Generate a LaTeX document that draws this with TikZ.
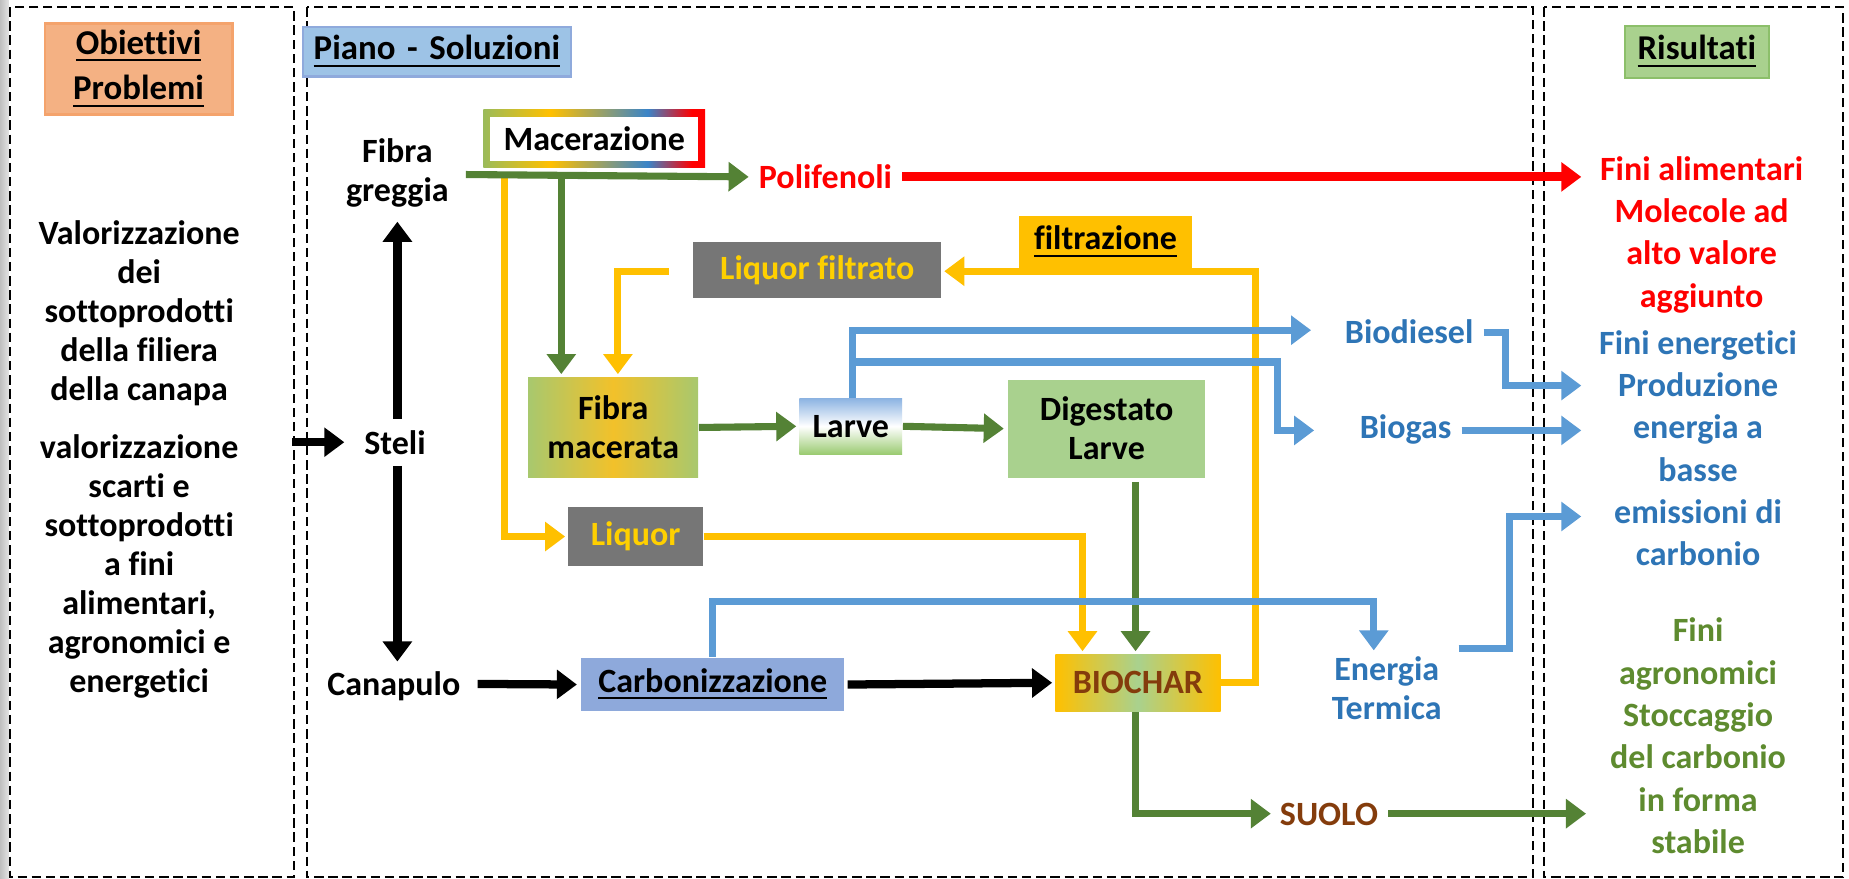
\documentclass[tikz,border=0pt]{standalone}
\usepackage{fontspec}
\setmainfont{Carlito}[Ligatures=NoCommon]
\usetikzlibrary{arrows.meta,calc}
\definecolor{cgreen}{HTML}{548235}
\definecolor{tgreen}{HTML}{5E8B2F}
\definecolor{cyel}{HTML}{FFC000}
\definecolor{tyel}{HTML}{FFD000}
\definecolor{cblue}{HTML}{5B9BD5}
\definecolor{tblue}{HTML}{2E75B6}
\definecolor{cred}{HTML}{FF0000}
\definecolor{cbrown}{HTML}{843C0C}
\definecolor{cgray}{HTML}{767676}
\definecolor{obfill}{HTML}{F4B183}
\definecolor{obdraw}{HTML}{F4A36C}
\definecolor{psfill}{HTML}{9DC3E6}
\definecolor{psdraw}{HTML}{8FAADC}
\definecolor{rifill}{HTML}{A9D18E}
\definecolor{ridraw}{HTML}{8CBF6A}
\definecolor{lgreen}{HTML}{A9D18E}
\definecolor{fmgreen}{HTML}{A8C86E}
\definecolor{fmyel}{HTML}{F2C12A}
\definecolor{carbfill}{HTML}{8EA9DB}
\definecolor{larblue}{HTML}{8DB4E2}
\definecolor{largreen}{HTML}{9BCB72}
\definecolor{macg}{HTML}{9BBB59}
\definecolor{macy}{HTML}{FFC000}
\definecolor{macb}{HTML}{3A84C8}
\definecolor{macr}{HTML}{FF0000}
\pgfdeclarehorizontalshading{macshade}{100bp}{color(0bp)=(macg); color(25bp)=(macg); color(40bp)=(macy); color(62bp)=(macb); color(72bp)=(macr); color(100bp)=(macr)}
\begin{document}
\begin{tikzpicture}[x=0.01cm,y=-0.01cm,
  panel/.style={draw=black, line width=0.5pt, dash pattern=on 0.08cm off 0.04cm},
  txt/.style={font=\fontsize{8.2}{9.4}\selectfont\bfseries, align=center, inner sep=0pt},
  rtxt/.style={font=\fontsize{8.2}{10.2}\selectfont\bfseries, align=center, inner sep=0pt},
  hdr/.style={font=\fontsize{8.4}{10}\selectfont\bfseries, align=center, inner sep=0pt, line width=0.6pt},
  box/.style={font=\fontsize{8.2}{9.4}\selectfont\bfseries, align=center, inner sep=0pt},
  arr/.style={line width=0.06cm, -{Triangle[length=0.17cm,width=0.24cm]}},
  blk/.style={arr, draw=black, line width=0.07cm},
  grn/.style={arr, draw=cgreen},
  yel/.style={arr, draw=cyel},
  blu/.style={arr, draw=cblue},
  rd/.style={arr, draw=cred, line width=0.075cm}
]
\useasboundingbox (0,0) rectangle (1568,745);
\fill[left color=gray!50, right color=gray!20] (0,0) rectangle (8,745);
\fill[white] (8,0) rectangle (1568,745);
% panels
\draw[panel] (8.5,6) rectangle (249,744);
\draw[panel] (260,6) rectangle (1300,744);
\draw[panel] (1309,6) rectangle (1563,744);

% headers
\node[hdr, fill=obfill, draw=obdraw, minimum width=1.59cm, minimum height=0.77cm] (ob) at (117.5,58.5) {\underline{Obiettivi}\\[1pt]\underline{Problemi}};
\node[hdr, fill=psfill, draw=psdraw, minimum height=0.42cm, text width=2.09cm, inner xsep=0.09cm, align=left, anchor=west] (ps) at (256,44) {\underline{Piano - Soluzioni}};
\node[hdr, fill=rifill, draw=ridraw, minimum width=1.22cm, minimum height=0.44cm] (ri) at (1439,44) {\underline{Risultati}};

% left texts
\node[txt] (lt1) at (118,266) {Valorizzazione\\dei\\sottoprodotti\\della filiera\\della canapa};
\node[txt] (lt2) at (118,480) {valorizzazione\\scarti e\\sottoprodotti\\a fini\\alimentari,\\agronomici e\\energetici};

% right texts
\node[rtxt, text=cred] (r1) at (1443,199) {Fini alimentari\\Molecole ad\\alto valore\\aggiunto};
\node[rtxt, text=tblue] (r2) at (1440,380) {Fini energetici\\Produzione\\energia a\\basse\\emissioni di\\carbonio};
\node[rtxt, text=tgreen] (r3) at (1440,624) {Fini\\agronomici\\Stoccaggio\\del carbonio\\in forma\\stabile};

% middle texts
\node[txt] (fg) at (337,147) {Fibra\\greggia};
\node[txt] (st) at (335,375) {Steli};
\node[txt] (can) at (334,582) {Canapulo};
\node[txt, text=cred] (pol) at (700,150) {Polifenoli};
\node[txt, text=tblue] (bd) at (1195,281) {Biodiesel};
\node[txt, text=tblue] (bg) at (1192,364) {Biogas};
\node[txt, text=tblue] (et) at (1176,584) {Energia\\Termica};
\node[txt, text=cbrown] (suolo) at (1127,691) {SUOLO};

% boxes
\path[shading=macshade] (410,93) rectangle (598,142);
\node[box, fill=white, minimum width=1.76cm, minimum height=0.37cm] (mac) at (504,118) {Macerazione};
\node[box, fill=cgray, text=tyel, minimum width=2.10cm, minimum height=0.48cm] (lf) at (693,229) {Liquor filtrato};
\node[box, fill=cyel, minimum width=1.47cm, minimum height=0.45cm] (fil) at (937.5,205.5) {\underline{filtrazione}};
\node[box, left color=fmgreen, right color=fmgreen, middle color=fmyel, minimum width=1.44cm, minimum height=0.85cm] (fm) at (520,362.5) {Fibra\\macerata};
\node[box, top color=larblue, bottom color=largreen, middle color=white, minimum width=0.87cm, minimum height=0.47cm] (lar) at (721.5,361.5) {Larve};
\node[box, fill=lgreen, minimum width=1.67cm, minimum height=0.83cm] (dig) at (938.5,363.5) {Digestato\\Larve};
\node[box, fill=cgray, text=tyel, minimum width=1.14cm, minimum height=0.50cm] (liq) at (539,455) {Liquor};
\node[box, fill=carbfill, minimum width=2.23cm, minimum height=0.45cm] (carb) at (604.5,580.5) {\underline{Carbonizzazione}};
\node[box, left color=cyel, right color=cyel, middle color=lgreen, text=cbrown, minimum width=1.40cm, minimum height=0.48cm] (bio) at (965,579) {BIOCHAR};

% junction coordinates
\coordinate (j1) at (428,149);
\coordinate (j2) at (476,149);
\coordinate (j3) at (723,307);
\coordinate (k3) at (1083,307);
\coordinate (k4) at (1277,282);
\coordinate (k5) at (1165,510);
\coordinate (k6) at (1280,550);
\coordinate (k7) at (1237,550);
\coordinate (yr) at (1065,230);
\coordinate (yl) at (524,230);
\coordinate (in) at (248,375);
\coordinate (e1) at (1341,327);
\coordinate (e2) at (1341,365);
\coordinate (e3) at (1341,438);
\coordinate (e4) at (1345,690);
\coordinate (e5) at (1341,150);

% black arrows
\draw[blk] (in) -- ($(st)+(-43,0)$);
\draw[blk] ($(st)+(2,-20)$) -- ($(fg)+(0,41)$);
\draw[blk] ($(st)+(2,20)$) -- ($(can)+(3,-21)$);
\draw[blk] ($(can)+(71,-2)$) -- ($(carb.west)+(-3,0)$);
\draw[blk] ($(carb.east)+(2,0)$) -- ($(bio.west)+(-2,0)$);

% green / red from fibra greggia
\draw[yel] (j1) |- ($(liq.west)+(-2,0)$);
\draw[grn] (j2) -- ($(j2 |- fm.north)+(0,-2)$);
\draw[grn] ($(fg)+(58,1)$) -- ($(pol.west)+(-8,0)$);
\draw[rd] ($(pol.east)+(8,0)$) -- (e5);

% liquor filtrato loop
\draw[yel] ($(lf.west)+(-20,1)$) -- (yl) -- ($(yl |- fm.north)+(0,-2)$);
\draw[yel] (bio.east) -| (yr) -- ($(lf.east)+(2,1)$);

% central chain
\draw[grn] (fm.east) -- ($(lar.west)+(-2,0)$);
\draw[grn] (lar.east) -- ($(dig.west)+(-3,0)$);

% blue from larve
\draw[blu] (lar.north -| j3) |- ($(bd.west)+(-28,-1)$);
\draw[blu] (j3) -- (k3) |- ($(bg.west)+(-38,1)$);
\draw[blu] ($(bd.east)+(8,1)$) -- (k4) |- (e1);
\draw[blu] ($(bg.east)+(8,1)$) -- (e2);

% biochar inputs
\draw[yel] (liq.east) -| ($(918,0 |- bio.north)+(0,-2)$);
\draw[grn] ($(bio.north |- dig.south)+(-2,3)$) -- ($(bio.north)+(-2,-2)$);

% carbonization heat
\draw[blu] (carb.north) |- (k5) -- ($(k5 |- et.north)+(0,-5)$);
\draw[blu] (k7) -- (k6) |- (e3);

% suolo
\draw[grn] ($(bio.south)+(-2,0)$) |- ($(suolo.west)+(-7,-1)$);
\draw[grn] ($(suolo.east)+(8,-1)$) -- (e4);
\end{tikzpicture}
\end{document}
